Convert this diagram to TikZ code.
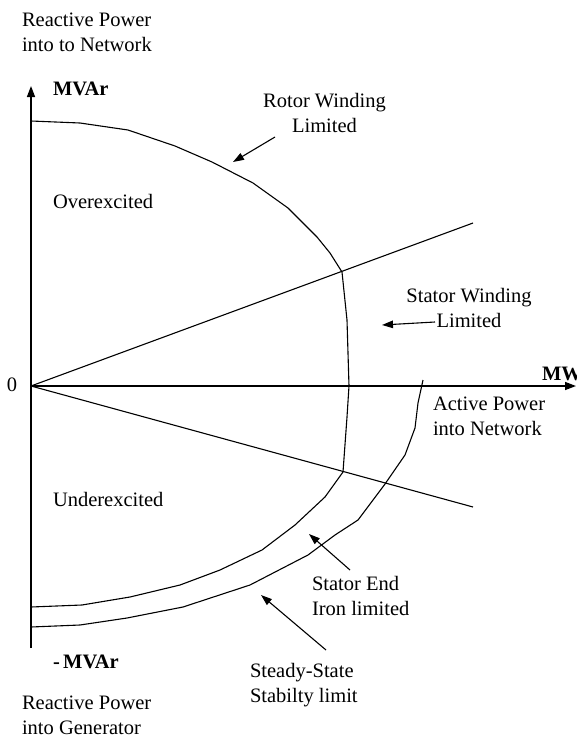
\documentclass[tikz,border=0pt]{standalone}
\usepackage{fontspec}
\setmainfont{Liberation Serif}
\usetikzlibrary{arrows.meta}
\begin{document}
\begin{tikzpicture}[x=1pt,y=-1pt,
  lbl/.style={inner sep=0pt,outer sep=0pt,font=\fontsize{20.5}{25}\selectfont},
  bl/.style={lbl,font=\fontsize{20.5}{25}\selectfont\bfseries},
  curve/.style={line width=1.1pt,line join=round},
  axis/.style={line width=1.4pt,-{Triangle[length=11pt,width=8pt]}},
  pointer/.style={line width=1.1pt,-{Triangle[length=11pt,width=7.5pt]}}]
\useasboundingbox (0,0) rectangle (576,739);
% axes
\coordinate (O) at (31,386);
\coordinate (ybot) at (31,648);
\coordinate (ytop) at (31,86);
\coordinate (xend) at (576,386);
\draw[axis] (ybot) -- (ytop);
\draw[axis] (O) -- (xend);
% power factor lines
\coordinate (ul) at (473,223);
\coordinate (ll) at (473,507);
\draw[curve] (O) -- (ul);
\draw[curve] (O) -- (ll);
% rotor winding limit
\draw[curve] (31,121) -- (80,123) -- (128,130) -- (175,146) -- (212,162) -- (253,183)
  -- (288,208) -- (317,237) -- (330,253) -- (342,272);
% stator winding limit
\draw[curve] (342,272) -- (347,320) -- (349,386) -- (347,417) -- (343,472);
% stator end iron limit
\draw[curve] (343,472) -- (325,497) -- (295,525) -- (262,550) -- (220,570) -- (180,585)
  -- (130,597) -- (82,605) -- (31,607);
% steady-state stability limit
\draw[curve] (423,380) -- (418,403) -- (415,428) -- (405,455) -- (385,484) -- (358,520)
  -- (335,535) -- (308,555) -- (250,585) -- (183,607) -- (127,618) -- (80,625) -- (31,627);
% labels
\node[lbl,anchor=north west,align=left] (rpn) at (22,13) {Reactive Power\\into to Network};
\node[bl,anchor=north west] (mvar) at (53,82) {MVAr};
\node[lbl,anchor=north,align=center] (rwl) at (324.5,93) {Rotor Winding\\Limited};
\node[lbl,anchor=north west] (over) at (53,194) {Overexcited};
\node[lbl,anchor=north,align=center] (swl) at (469,288) {Stator Winding\\Limited};
\node[lbl] (zero) at (12,385) {0};
\node[bl,anchor=north west] (mw) at (542,367) {MW};
\node[lbl,anchor=north west,align=left] (apn) at (433,397) {Active Power\\into Network};
\node[lbl,anchor=north west] (under) at (53,492) {Underexcited};
\node[lbl,anchor=north west,align=left] (sei) at (312,576) {Stator End\\Iron limited};
\node[bl,anchor=north west] (nmvar) at (53,655) {-\,MVAr};
\node[lbl,anchor=north west,align=left] (sss) at (250,663) {Steady-State\\Stabilty limit};
\node[lbl,anchor=north west,align=left] (rpg) at (22,696) {Reactive Power\\into Generator};
% pointers
\coordinate (a1s) at (275,137); \coordinate (a1e) at (233,162);
\coordinate (a2s) at (435,322); \coordinate (a2e) at (382,325);
\coordinate (a3s) at (350,570); \coordinate (a3e) at (309,534);
\coordinate (a4s) at (326,650); \coordinate (a4e) at (261,595);
\draw[pointer] (a1s) -- (a1e);
\draw[pointer] (a2s) -- (a2e);
\draw[pointer] (a3s) -- (a3e);
\draw[pointer] (a4s) -- (a4e);
\end{tikzpicture}
\end{document}
